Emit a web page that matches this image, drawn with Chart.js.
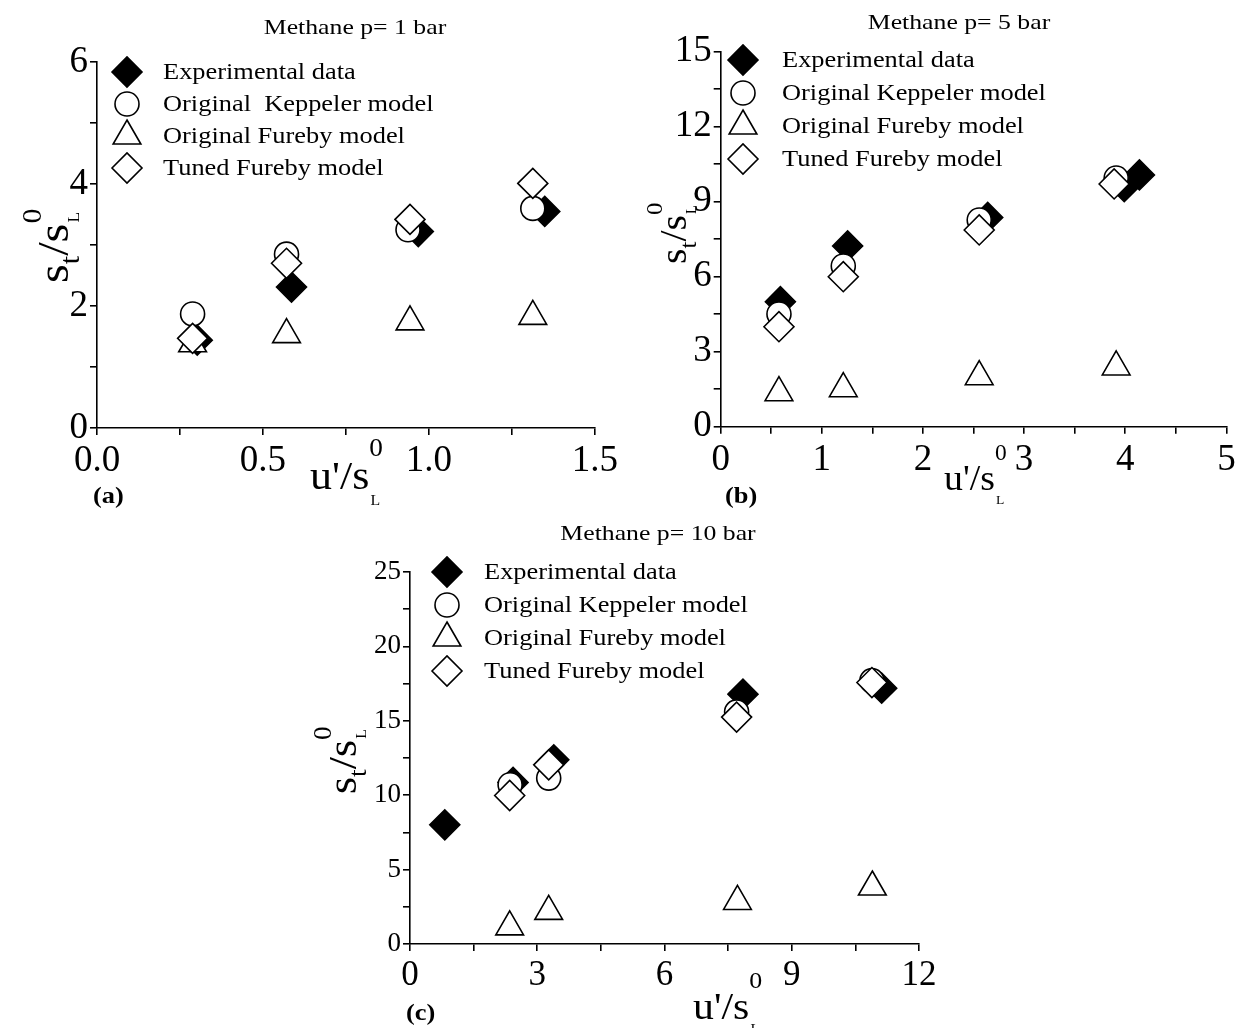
<!DOCTYPE html>
<html>
<head>
<meta charset="utf-8">
<title>Methane flame speed ratios</title>
<script src="https://cdn.jsdelivr.net/npm/chart.js@4/dist/chart.umd.min.js"></script>
<style>
  html, body { margin: 0; padding: 0; background: #ffffff; overflow: hidden; }
  #wrap { position: relative; width: 1244px; height: 1028px; background: #ffffff; }
  canvas { position: absolute; }
</style>
</head>
<body>
<div id="wrap">
  <canvas id="panelA" width="622" height="512" style="left:0;top:0"></canvas>
  <canvas id="panelB" width="622" height="512" style="left:622px;top:0"></canvas>
  <canvas id="panelC" width="660" height="516" style="left:300px;top:512px"></canvas>
</div>
<script>
// ---- series labels ----
const seriesLabels = ['Experimental data', 'Original  Keppeler model', 'Original Fureby model', 'Tuned Fureby model'];
const seriesLabelsBC = ['Experimental data', 'Original Keppeler model', 'Original Fureby model', 'Tuned Fureby model'];

// ---- panel (a): p = 1 bar ----
const expA_x   = [0.302, 0.586, 0.968, 1.349];
const expA_y   = [1.44, 2.31, 3.22, 3.55];
const keppA_x  = [0.288, 0.571, 0.937, 1.313];
const keppA_y  = [1.87, 2.85, 3.25, 3.60];
const furA_x   = [0.288, 0.571, 0.943, 1.313];
const furA_y   = [1.38, 1.53, 1.74, 1.83];
const tunedA_x = [0.288, 0.571, 0.943, 1.313];
const tunedA_y = [1.47, 2.70, 3.42, 4.01];
const xMajorA  = ['0.0', '0.5', '1.0', '1.5'];
const yMajorA  = ['0', '2', '4', '6'];

// ---- panel (b): p = 5 bar ----
const expB_x   = [0.59, 1.255, 2.64, 3.99, 4.14];
const expB_y   = [5.0, 7.23, 8.37, 9.6, 10.07];
const keppB_x  = [0.576, 1.212, 2.556, 3.91];
const keppB_y  = [4.51, 6.43, 8.27, 9.95];
const furB_x   = [0.576, 1.212, 2.556, 3.91];
const furB_y   = [1.36, 1.52, 2.0, 2.39];
const tunedB_x = [0.576, 1.212, 2.556, 3.89];
const tunedB_y = [4.0, 6.0, 7.87, 9.71];
const xMajorB  = ['0', '1', '2', '3', '4', '5'];
const yMajorB  = ['0', '3', '6', '9', '12', '15'];

// ---- panel (c): p = 10 bar ----
const expC_x   = [0.82, 2.43, 3.39, 7.85, 11.12];
const expC_y   = [8.01, 10.86, 12.38, 16.79, 17.19];
const keppC_x  = [2.36, 3.27, 7.70, 10.89];
const keppC_y  = [10.70, 11.15, 15.6, 17.7];
const furC_x   = [2.35, 3.27, 7.72, 10.9];
const furC_y   = [1.15, 2.19, 2.86, 3.83];
const tunedC_x = [2.35, 3.27, 7.70, 10.89];
const tunedC_y = [9.98, 12.04, 15.25, 17.57];
const xMajorC  = ['0', '3', '6', '9', '12'];
const yMajorC  = ['0', '5', '10', '15', '20', '25'];

const SERIF = '"Liberation Serif", "Times New Roman", serif';

function pts(xs, ys) { return xs.map((x, i) => ({ x: x, y: ys[i] })); }

// marker look for each series; drawn bottom-up: experiment, Keppeler, Fureby, tuned
const markerStyles = [
  { pointStyle: 'rectRot',  pointRadius: 15, backgroundColor: '#000000', order: 4 },
  { pointStyle: 'circle',   pointRadius: 12, backgroundColor: '#ffffff', order: 3 },
  { pointStyle: 'triangle', pointRadius: 16, backgroundColor: '#ffffff', order: 2 },
  { pointStyle: 'rectRot',  pointRadius: 15, backgroundColor: '#ffffff', order: 1 }
];

function makeDatasets(labels, series) {
  return series.map((s, i) => Object.assign({
    label: labels[i],
    data: pts(s[0], s[1]),
    borderColor: '#000000',
    borderWidth: 1.6,
    showLine: false,
    pointHoverRadius: 0
  }, markerStyles[i]));
}

// text drawn with a horizontal stretch factor
function wideText(ctx, t, x, y, sx) {
  ctx.save();
  ctx.translate(x, y);
  ctx.scale(sx, 1);
  ctx.fillText(t, 0, 0);
  ctx.restore();
}

// draws a string made of several runs (sub/superscripts), optionally rotated
function richText(ctx, parts, x, y, rotate, sx) {
  ctx.save();
  ctx.translate(x, y);
  if (rotate) ctx.rotate(-Math.PI / 2);
  ctx.scale(sx, 1);
  ctx.textAlign = 'left';
  ctx.textBaseline = 'alphabetic';
  let cx = 0;
  for (const p of parts) {
    ctx.font = p.size + 'px ' + SERIF;
    ctx.fillText(p.t, cx + (p.dx || 0), p.dy || 0);
    if (!p.hold) cx += ctx.measureText(p.t).width + (p.dx || 0) + (p.gap || 0);
  }
  ctx.restore();
}

// s-quantity with superscript 0 stacked over subscript L
function titleParts(head, size, supShift, subShift) {
  return head.concat([
    { t: '0', size: size * 0.62, dy: -size * supShift, hold: true },
    { t: 'L', size: size * 0.36, dy: size * subShift, dx: 1 }
  ]);
}

const panelDecor = {
  id: 'panelDecor',
  afterDraw(chart, args, o) {
    const ctx = chart.ctx;
    ctx.save();
    ctx.fillStyle = '#000000';
    // panel heading
    ctx.font = o.titleSize + 'px ' + SERIF;
    ctx.textAlign = 'center';
    ctx.textBaseline = 'middle';
    wideText(ctx, o.title, o.titleX, o.titleY, o.textStretch);
    // legend: one row per dataset, symbol then label
    ctx.textAlign = 'left';
    ctx.font = o.legendSize + 'px ' + SERIF;
    chart.data.datasets.forEach((ds, i) => {
      const y = o.legendY + i * o.legendDy;
      ctx.save();
      ctx.fillStyle = ds.backgroundColor;
      ctx.strokeStyle = ds.borderColor;
      ctx.lineWidth = ds.borderWidth;
      Chart.helpers.drawPoint(ctx, {
        pointStyle: ds.pointStyle, radius: ds.pointRadius,
        borderWidth: ds.borderWidth, rotation: 0
      }, o.legendX, y);
      ctx.restore();
      ctx.fillStyle = '#000000';
      ctx.textBaseline = 'middle';
      wideText(ctx, ds.label, o.legendTextX, y + 1, o.legendStretch);
    });
    // axis titles
    const xs = o.xAxisSize, ys = o.yAxisSize;
    richText(ctx, titleParts([{ t: "u'/s", size: xs }], xs, 0.82, 0.4),
      o.xTitleX, o.xTitleY, false, o.axisStretch);
    richText(ctx, titleParts([
      { t: 's', size: ys },
      { t: 't', size: ys * 0.62, dy: ys * 0.26 },
      { t: '/s', size: ys }
    ], ys, 0.62, 0.26), o.yTitleX, o.yTitleY, true, o.axisStretch);
    // panel tag
    ctx.font = 'bold ' + o.tagSize + 'px ' + SERIF;
    ctx.textAlign = 'left';
    ctx.textBaseline = 'alphabetic';
    wideText(ctx, o.tag, o.tagX, o.tagY, o.legendStretch);
    ctx.restore();
  }
};

function axisX(min, max, step, majors, fontSize, fmt) {
  return {
    type: 'linear', position: 'bottom', min: min, max: max,
    afterFit(scale) { scale.height = 50; },
    border: { display: true, color: '#000000', width: 1.6 },
    grid: { drawOnChartArea: false, drawTicks: true, tickLength: 7, color: '#000000', lineWidth: 1.6 },
    ticks: {
      stepSize: step, autoSkip: false, maxRotation: 0, padding: 4,
      color: '#000000', font: { family: SERIF, size: fontSize },
      callback(v) { const s = fmt(v); return majors.includes(s) ? s : ''; }
    }
  };
}
function axisY(min, max, step, majors, fontSize, fmt) {
  return {
    type: 'linear', position: 'left', min: min, max: max,
    afterFit(scale) { scale.width = 60; },
    border: { display: true, color: '#000000', width: 1.6 },
    grid: { drawOnChartArea: false, drawTicks: true, tickLength: 7, color: '#000000', lineWidth: 1.6 },
    ticks: {
      stepSize: step, autoSkip: false, padding: 2,
      color: '#000000', font: { family: SERIF, size: fontSize },
      callback(v) { const s = fmt(v); return majors.includes(s) ? s : ''; }
    }
  };
}

const fmt1 = v => (Math.round(v * 100) / 100).toFixed(1);
const fmt0 = v => String(Math.round(v * 100) / 100);

function buildPanel(id, labels, series, xs, ys, padding, decor) {
  return new Chart(document.getElementById(id), {
    type: 'scatter',
    data: { datasets: makeDatasets(labels, series) },
    options: {
      responsive: false, animation: false, events: [],
      layout: { padding: padding },
      scales: { x: xs, y: ys },
      plugins: { legend: { display: false }, tooltip: { enabled: false }, panelDecor: decor }
    },
    plugins: [panelDecor]
  });
}

buildPanel('panelA', seriesLabels,
  [[expA_x, expA_y], [keppA_x, keppA_y], [furA_x, furA_y], [tunedA_x, tunedA_y]],
  axisX(0, 1.5, 0.25, xMajorA, 37, fmt1),
  axisY(0, 6, 1, yMajorA, 37, fmt0),
  { left: 37, right: 27, top: 62, bottom: 34 },
  { title: 'Methane p= 1 bar', titleX: 355, titleY: 28, titleSize: 22, textStretch: 1.17,
    legendX: 127, legendY: 72, legendDy: 32, legendTextX: 163, legendSize: 24, legendStretch: 1.1,
    xAxisSize: 40, yAxisSize: 44, axisStretch: 1.1,
    xTitleX: 310, xTitleY: 489, yTitleX: 68, yTitleY: 283,
    tag: '(a)', tagX: 93, tagY: 503, tagSize: 24 });

buildPanel('panelB', seriesLabelsBC,
  [[expB_x, expB_y], [keppB_x, keppB_y], [furB_x, furB_y], [tunedB_x, tunedB_y]],
  axisX(0, 5, 0.5, xMajorB, 37, fmt0),
  axisY(0, 15, 1.5, yMajorB, 37, fmt0),
  { left: 38.7, right: 15, top: 51.7, bottom: 35.3 },
  { title: 'Methane p= 5 bar', titleX: 337, titleY: 23, titleSize: 22, textStretch: 1.17,
    legendX: 121, legendY: 60, legendDy: 33, legendTextX: 160, legendSize: 24, legendStretch: 1.1,
    xAxisSize: 36, yAxisSize: 38, axisStretch: 1.05,
    xTitleX: 322, xTitleY: 490, yTitleX: 64, yTitleY: 264,
    tag: '(b)', tagX: 103, tagY: 503, tagSize: 24 });

buildPanel('panelC', seriesLabelsBC,
  [[expC_x, expC_y], [keppC_x, keppC_y], [furC_x, furC_y], [tunedC_x, tunedC_y]],
  axisX(0, 12, 1.5, xMajorC, 35, fmt0),
  axisY(0, 25, 2.5, yMajorC, 27, fmt0),
  { left: 50, right: 41, top: 60, bottom: 34 },
  { title: 'Methane p= 10 bar', titleX: 358, titleY: 22, titleSize: 22, textStretch: 1.17,
    legendX: 147, legendY: 60, legendDy: 33, legendTextX: 184, legendSize: 24, legendStretch: 1.1,
    xAxisSize: 38, yAxisSize: 40, axisStretch: 1.1,
    xTitleX: 393, xTitleY: 507, yTitleX: 56, yTitleY: 282,
    tag: '(c)', tagX: 106, tagY: 508, tagSize: 24 });
</script>
</body>
</html>
